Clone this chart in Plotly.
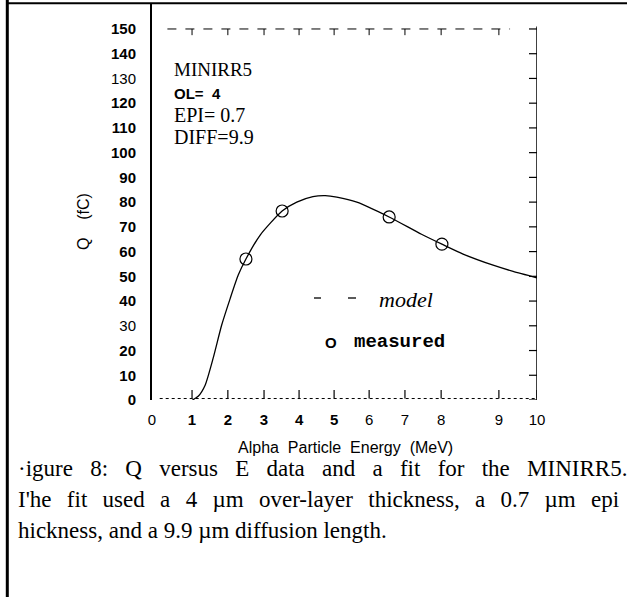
import plotly.graph_objects as go

# ---- data (x in axis-position units; labelled energies are placed via tick positions) ----
tick_pos = [0, 1.04, 1.97, 2.91, 3.82, 4.73, 5.64, 6.57, 7.51, 9.01, 10.0]
tick_lbl = ["0", "<b>1</b>", "<b>2</b>", "<b>3</b>", "<b>4</b>", "<b>5</b>", "6", "7", "8", "9", "10"]
y_ticks = [0, 10, 20, 30, 40, 50, 60, 70, 80, 90, 100, 110, 120, 130, 140, 150]
y_lbl = ["<b>0</b>", "<b>10</b>", "<b>20</b>", "30", "<b>40</b>", "<b>50</b>", "<b>60</b>", "<b>70</b>",
         "<b>80</b>", "<b>90</b>", "<b>100</b>", "<b>110</b>", "<b>120</b>", "130", "<b>140</b>", "<b>150</b>"]

model_x = [1.05, 1.2, 1.38, 1.59, 1.81, 2.03, 2.24, 2.44, 2.81, 3.38, 3.76, 4.18, 4.5, 4.8, 5.32,
           6.16, 7.0, 7.53, 8.08, 8.86, 9.38, 10.0]
model_q = [0, 1.5, 6, 17, 30.3, 41, 50.5, 57, 66.7, 76.4, 80, 82.2, 82.6, 82.0, 80,
           74, 67, 63, 59, 54.5, 52, 49.4]

meas_x = [2.44, 3.38, 6.16, 7.53]
meas_q = [57, 76.4, 74, 63]

# ---- layout geometry (pixels) ----
W, H = 627, 597
L, R, T, B = 152, 537, 3, 400
PW, PH = R - L, B - T


def px(x):
    return (x - L) / PW


def py(y):
    return (B - y) / PH


fig = go.Figure()
fig.add_trace(go.Scatter(x=model_x, y=model_q, mode="lines",
                         line=dict(color="black", width=1.3, shape="spline", smoothing=0.6),
                         showlegend=False, hoverinfo="skip"))
fig.add_trace(go.Scatter(x=meas_x, y=meas_q, mode="markers",
                         marker=dict(symbol="circle-open", size=12, color="black", line=dict(width=1.2)),
                         showlegend=False, hoverinfo="skip"))

shapes = []
# page frame: thick left border, top rule
shapes.append(dict(type="line", xref="paper", yref="paper", x0=px(7.3), x1=px(7.3), y0=py(0), y1=py(597),
                   line=dict(color="black", width=3)))
shapes.append(dict(type="line", xref="paper", yref="paper", x0=px(6), x1=px(627), y0=py(3.3), y1=py(3.3),
                   line=dict(color="black", width=2)))
# right axis with inward ticks
shapes.append(dict(type="line", xref="x", yref="y", x0=10, x1=10, y0=0, y1=151,
                   line=dict(color="black", width=1.5)))
for v in y_ticks:
    shapes.append(dict(type="line", xref="x", yref="y", x0=10 - 8 / 38.5, x1=10, y0=v, y1=v,
                       line=dict(color="black", width=1.2)))
# broken top axis at 150 with small downward ticks
shapes.append(dict(type="line", xref="x", yref="y", x0=0.4, x1=9.3, y0=150, y1=150,
                   line=dict(color="black", width=1, dash="dash")))
for v in tick_pos[1:10]:
    shapes.append(dict(type="line", xref="x", yref="y", x0=v, x1=v, y0=150, y1=147.5,
                       line=dict(color="black", width=1)))
# dotted bottom axis with small upward ticks
shapes.append(dict(type="line", xref="x", yref="y", x0=0.2, x1=10, y0=0.6, y1=0.6,
                   line=dict(color="black", width=1, dash="dot")))
for v in tick_pos[1:]:
    shapes.append(dict(type="line", xref="x", yref="y", x0=v, x1=v, y0=0.6, y1=4,
                       line=dict(color="black", width=1.2)))
# legend dashes
shapes.append(dict(type="line", xref="paper", yref="paper", x0=px(314), x1=px(321), y0=py(298), y1=py(298),
                   line=dict(color="black", width=1.3)))
shapes.append(dict(type="line", xref="paper", yref="paper", x0=px(348), x1=px(356), y0=py(298), y1=py(298),
                   line=dict(color="black", width=1.3)))

serif = "Liberation Serif"
sans = "Liberation Sans"
mono = "Liberation Mono"

ann = []


def note(x, y, text, size, family, xanchor="left", **kw):
    ann.append(dict(x=px(x), y=py(y), xref="paper", yref="paper", text=text, showarrow=False,
                    xanchor=xanchor, yanchor="middle", font=dict(size=size, family=family, color="black"), **kw))


G1 = " \u2005\u2005"   # widened word gap (justified line)
G2 = " \u2005\u2006"

note(172, 70, "MINIRR5", 19, serif)
note(172, 93, "<b>OL=  4</b>", 15, sans)
note(172, 115, "EPI= 0.7", 20, serif)
note(172, 137, "DIFF=9.9", 20, serif)
note(377, 299, "<i>model</i>", 22, serif)
note(323, 342, "<b>O</b>", 15, sans)
note(352, 342, "<b>measured</b>", 19, mono)
note(84, 222, "Q    (fC)", 16, sans, xanchor="center", textangle=-90)
note(345, 447, "Alpha  Particle  Energy  (MeV)", 16, sans, xanchor="center")
note(16, 468, G1.join("\u00b7igure 8: Q versus E data and a fit for the MINIRR5.".split(" ")), 23, serif)
note(16, 499, G2.join("I'he fit used a 4 \u00b5m over-layer thickness, a 0.7 \u00b5m epi".split(" ")), 23, serif)
note(16, 530, "hickness, and a 9.9 \u00b5m diffusion length.", 23, serif)

fig.update_layout(
    width=W, height=H,
    margin=dict(l=L, r=W - R, t=T, b=H - B, pad=0),
    paper_bgcolor="white", plot_bgcolor="white",
    shapes=shapes, annotations=ann, showlegend=False,
    xaxis=dict(range=[0, 10], tickvals=tick_pos, ticktext=tick_lbl, showgrid=False, zeroline=False,
               showline=False, ticks="", ticklabelstandoff=9,
               tickfont=dict(family=sans, size=15, color="black")),
    yaxis=dict(range=[0, 160.5], tickvals=y_ticks, ticktext=y_lbl, showgrid=False, zeroline=False,
               showline=True, linecolor="black", linewidth=2, ticks="", ticklabelstandoff=11,
               tickfont=dict(family=sans, size=15, color="black")),
)

fig.write_html("out.html")
